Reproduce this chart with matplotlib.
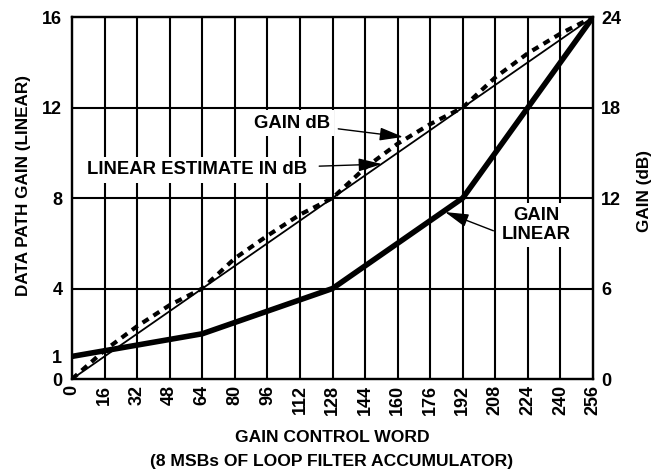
import matplotlib.pyplot as plt

plt.rcParams["font.family"] = ["Liberation Sans", "DejaVu Sans"]
plt.rcParams["font.weight"] = "bold"

# gain control word (x axis)
word = [0, 16, 32, 48, 64, 80, 96, 112, 128, 144, 160, 176, 192, 208, 224, 240, 256]
# data path gain, linear (left axis)
gain_linear = [1, 1.25, 1.5, 1.75, 2, 2.5, 3, 3.5, 4, 5, 6, 7, 8, 10, 12, 14, 16]
# gain in dB (right axis), dashed
gain_db = [0, 1.9, 3.5, 4.9, 6, 8, 9.5, 10.9, 12, 14, 15.6, 16.9, 18, 20, 21.6, 22.9, 24]
# linear estimate in dB (right axis), thin line
est_word = [0, 256]
est_db = [0, 24]

xticks = list(range(0, 257, 16))
left_ticks = [0, 1, 4, 8, 12, 16]
right_ticks = [0, 6, 12, 18, 24]

fig = plt.figure(figsize=(6.62, 4.73), dpi=100)
ax = fig.add_axes([0.1088, 0.1987, 0.787, 0.7653])
ax2 = ax.twinx()

ax.set_xlim(0, 256)
ax.set_ylim(0, 16)
ax2.set_ylim(0, 24)

# grid
for x in xticks[1:-1]:
    ax.axvline(x, color="black", lw=1.5, zorder=1)
for y in [4, 8, 12]:
    ax.axhline(y, color="black", lw=1.5, zorder=1)

ax.plot(word, gain_linear, color="black", lw=4, solid_joinstyle="round",
        solid_capstyle="round", zorder=3)
ax2.plot(est_word, est_db, color="black", lw=1.3, zorder=3)
ax2.plot(word, gain_db, color="black", lw=3, dashes=(1.7, 1.4), zorder=3)

for a in (ax, ax2):
    for s in a.spines.values():
        s.set_linewidth(1.6)
    a.tick_params(length=0, labelsize=13)
ax.tick_params(axis="x", pad=4)
ax.tick_params(axis="y", pad=7)
ax2.tick_params(axis="y", pad=6)

ax.set_xticks(xticks)
ax.set_xticklabels([str(v) for v in xticks], rotation=90, fontweight="bold")
ax.set_yticks(left_ticks)
ax.set_yticklabels([str(v) for v in left_ticks], fontweight="bold")
ax2.set_yticks(right_ticks)
ax2.set_yticklabels([str(v) for v in right_ticks], fontweight="bold")

# axis titles
fig.text(332 / 662, 1 - 437 / 473, "GAIN CONTROL WORD", fontsize=12.6,
         fontweight="bold", ha="center", va="center")
fig.text(332 / 662, 1 - 461 / 473, "(8 MSBs OF LOOP FILTER ACCUMULATOR)",
         fontsize=12.6, fontweight="bold", ha="center", va="center")
fig.text(24 / 662, 1 - 185 / 473, "DATA PATH GAIN (LINEAR)", fontsize=12.3,
         fontweight="bold", rotation=90, ha="center", va="center")
fig.text(644 / 662, 1 - 191 / 473, "GAIN (dB)", fontsize=12.3,
         fontweight="bold", rotation=90, ha="center", va="center")

box = dict(facecolor="white", edgecolor="none", pad=3)
arrow = dict(arrowstyle="-|>,head_length=0.9,head_width=0.25", color="black",
             lw=1, mutation_scale=16, shrinkA=3, shrinkB=0)

ax2.annotate("GAIN dB", xy=(162.7, 16.05), xytext=(108, 16.97), fontsize=13.3,
             fontweight="bold", ha="center", va="center", bbox=box,
             arrowprops=arrow, zorder=5)
ax2.annotate("LINEAR ESTIMATE IN dB", xy=(152.3, 14.25), xytext=(61.2, 13.86),
             fontsize=13.3, fontweight="bold", ha="center", va="center",
             bbox=box, arrowprops=dict(arrow, relpos=(1, 0.7), shrinkA=6),
             zorder=5)
ax.annotate("GAIN\nLINEAR", xy=(183.3, 7.38), xytext=(228, 6.81), fontsize=13.3,
            fontweight="bold", ha="center", va="center", bbox=box,
            arrowprops=dict(arrow, relpos=(0, 0.25)),
            zorder=5, linespacing=1.15)

fig.savefig("out.png", dpi=100)
